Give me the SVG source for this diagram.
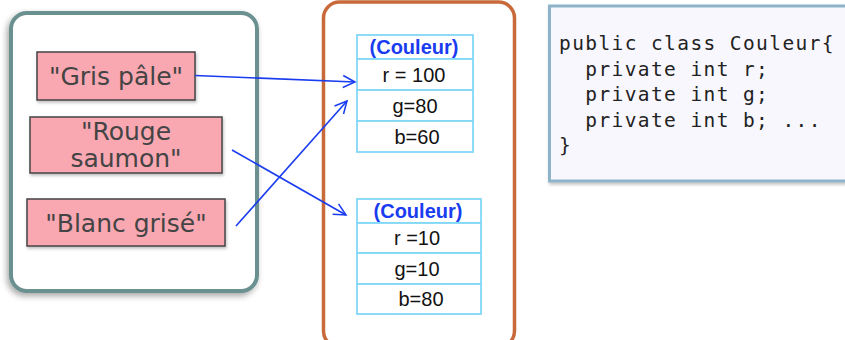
<svg xmlns="http://www.w3.org/2000/svg" width="845" height="340" viewBox="0 0 845 340">
<defs>
<filter id="sh" x="-20%" y="-20%" width="140%" height="140%">
<feDropShadow dx="-2" dy="3" stdDeviation="3" flood-color="#000" flood-opacity="0.35"/>
</filter>
<filter id="sh2" x="-20%" y="-20%" width="140%" height="140%">
<feDropShadow dx="1" dy="2" stdDeviation="1.5" flood-color="#000" flood-opacity="0.25"/>
</filter>
<marker id="arr" markerWidth="15" markerHeight="15" refX="13" refY="7.5" orient="auto" markerUnits="userSpaceOnUse">
<path d="M1,1.5 L13,7.5 L1,13.5" fill="none" stroke="#1a3cf0" stroke-width="1.5"/>
</marker>
<style>
.str{fill:#f9a8b2;stroke:#444;stroke-width:1.5}
.strt{font-family:"DejaVu Sans",Verdana,sans-serif;font-size:25px;fill:#444;text-anchor:middle}
.cell{fill:#fff;stroke:#82d8f7;stroke-width:1.8}
.hd{font-family:"Liberation Sans",Arial,sans-serif;font-weight:bold;font-size:20px;fill:#1a3cf0;text-anchor:middle}
.val{font-family:"Liberation Sans",Arial,sans-serif;font-size:20px;fill:#111;text-anchor:middle}
.code{font-family:"DejaVu Sans Mono",monospace;font-size:19.5px;fill:#222;letter-spacing:1.4px;white-space:pre}
.conn{fill:none;stroke:#1a3cf0;stroke-width:1.6;marker-end:url(#arr)}
</style>
</defs>
<rect width="845" height="340" fill="#fff"/>

<g id="strings-container">
<rect x="11" y="13" width="246" height="278" rx="16" fill="#fff" stroke="#6a9090" stroke-width="4" filter="url(#sh)"/>
</g>
<g id="gris-pale">
<rect class="str" x="37" y="52" width="158" height="48" filter="url(#sh2)"/>
<text class="strt" x="116" y="85">"Gris pâle"</text>
</g>
<g id="rouge-saumon">
<rect class="str" x="30" y="117" width="192" height="56" filter="url(#sh2)"/>
<text class="strt" x="126" y="140">"Rouge</text>
<text class="strt" x="126" y="167">saumon"</text>
</g>
<g id="blanc-grise">
<rect class="str" x="27" y="199" width="198" height="47" filter="url(#sh2)"/>
<text class="strt" x="126" y="232">"Blanc grisé"</text>
</g>

<g id="objects-container">
<rect x="323.5" y="2" width="191" height="345" rx="16" fill="#fff" stroke="#c8693a" stroke-width="3.5"/>
</g>
<g id="couleur-1">
<rect class="cell" x="357" y="35" width="116" height="24"/>
<rect class="cell" x="357" y="59" width="116" height="31"/>
<rect class="cell" x="357" y="90" width="116" height="31"/>
<rect class="cell" x="357" y="121" width="116" height="31"/>
<text class="hd" x="414" y="54">(Couleur)</text>
<text class="val" x="414" y="82">r = 100</text>
<text class="val" x="415" y="113">g=80</text>
<text class="val" x="417" y="144">b=60</text>
</g>
<g id="couleur-2">
<rect class="cell" x="357" y="199" width="124" height="24"/>
<rect class="cell" x="357" y="223" width="124" height="30"/>
<rect class="cell" x="357" y="253" width="124" height="31"/>
<rect class="cell" x="357" y="284" width="124" height="30"/>
<text class="hd" x="418" y="218">(Couleur)</text>
<text class="val" x="417" y="245">r =10</text>
<text class="val" x="417" y="276">g=10</text>
<text class="val" x="421" y="306">b=80</text>
</g>

<g id="code">
<rect x="549.5" y="6" width="310" height="175" fill="#f7f7fd" stroke="#8fb4ca" stroke-width="3" filter="url(#sh2)"/>
<text class="code" x="559" y="50" xml:space="preserve">public class Couleur{</text>
<text class="code" x="559" y="76" xml:space="preserve">  private int r;</text>
<text class="code" x="559" y="101" xml:space="preserve">  private int g;</text>
<text class="code" x="559" y="127" xml:space="preserve">  private int b; ...</text>
<text class="code" x="559" y="152" xml:space="preserve">}</text>
</g>

<g id="connectors">
<path class="conn" d="M195,75.5 L355,82"/>
<path class="conn" d="M232,150 L346,215"/>
<path class="conn" d="M236,226 L347,101"/>
</g>
</svg>
